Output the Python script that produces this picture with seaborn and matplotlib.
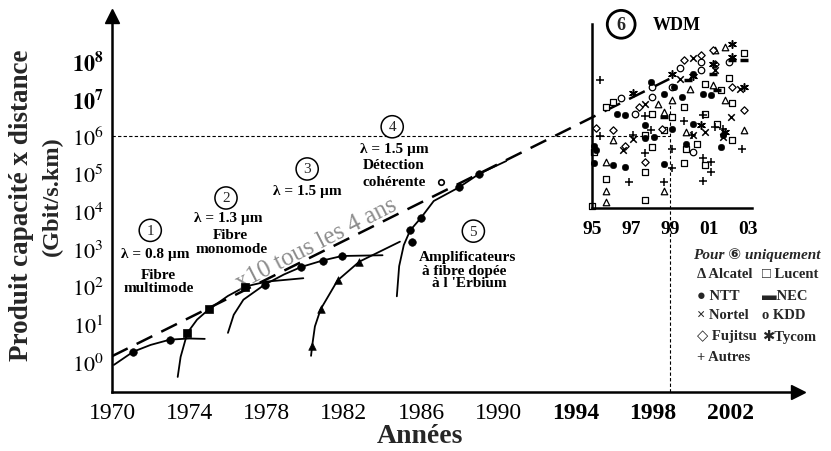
import numpy as np
import pandas as pd
import matplotlib
matplotlib.use("Agg")
import matplotlib.pyplot as plt
import seaborn as sns

# ---------------- data (years, log10 of capacity x distance) ----------------
c1_year = [1970.1, 1971.1, 1972.0, 1973.0, 1974.0, 1974.8]
c1_log = [-0.08, 0.27, 0.45, 0.59, 0.62, 0.61]
c1_mk_year = [1971.1, 1973.0]
c1_mk_log = [0.27, 0.59]

c2_year = [1973.4, 1973.55, 1973.9, 1974.4, 1975.0, 1976.0, 1976.9, 1978.0, 1979.9]
c2_log = [-0.40, 0.13, 0.77, 1.12, 1.39, 1.75, 2.00, 2.13, 2.22]
c2_mk_year = [1973.9, 1975.0, 1976.9]
c2_mk_log = [0.77, 1.39, 2.00]

c3_year = [1976.0, 1976.3, 1976.8, 1977.9, 1978.9, 1979.8, 1980.9, 1981.9, 1984.0]
c3_log = [0.77, 1.25, 1.65, 2.05, 2.32, 2.52, 2.69, 2.81, 2.83]
c3_mk_year = [1977.9, 1979.8, 1980.9, 1981.9]
c3_mk_log = [2.05, 2.52, 2.69, 2.81]

c4_year = [1980.3, 1980.36, 1980.5, 1980.8, 1981.67, 1982.8, 1984.9]
c4_log = [0.16, 0.43, 0.94, 1.40, 2.16, 2.66, 3.19]
c4_mk_year = [1980.36, 1980.8, 1981.67, 1982.8]
c4_mk_log = [0.43, 1.40, 2.16, 2.66]

c5_year = [1984.74, 1984.86, 1985.1, 1985.43, 1986.0, 1986.65, 1987.95, 1989.0, 1990.4]
c5_log = [1.74, 2.54, 3.10, 3.49, 3.83, 4.27, 4.63, 4.99, 5.33]
c5_mk_year = [1985.43, 1986.0, 1987.95, 1989.0, 1985.5]
c5_mk_log = [3.49, 3.83, 4.63, 4.99, 3.18]
open_year = [1987.0]
open_log = [4.77]

trend_year = [1970.0, 1999.2]
trend_log = [0.15, 7.6]

# WDM systems (inset), per supplier
alc_year = [1995.7, 1995.7, 1995.7, 1996.1, 1998.4, 1998.7, 1998.7, 1999.1, 1999.8, 2000.0, 2001.2, 2001.3, 2001.8, 2001.8, 2002.8]
alc_log = [5.30, 4.52, 4.23, 5.88, 6.85, 4.52, 6.63, 6.94, 6.10, 7.25, 7.34, 8.28, 8.36, 6.94, 6.14]
luc_year = [1995.0, 1995.1, 1995.7, 1995.7, 1996.1, 1997.7, 1997.7, 1997.7, 1998.1, 1998.1, 1998.7, 1999.1, 1999.7,
            1999.7, 1999.8, 2000.4, 2000.8, 2000.8, 2000.8, 2001.4, 2001.6, 2002.0, 2002.2, 2002.2, 2002.8]
luc_log = [4.12, 5.56, 4.85, 6.76, 6.90, 5.03, 4.29, 6.01, 6.59, 5.70, 6.14, 6.50, 5.28,
           6.76, 5.65, 5.79, 7.38, 6.59, 5.21, 6.32, 7.21, 7.54, 6.88, 5.88, 8.19]
ntt_year = [1995.1, 1995.1, 1995.2, 1996.1, 1996.7, 1996.3, 1996.7, 1997.7, 1997.7, 1998.0, 1998.2, 1998.7,
            1998.7, 1999.1, 1999.2, 1999.6, 1999.8, 2000.2, 2000.2, 2000.7, 2001.1, 2001.6, 2001.7]
ntt_log = [5.74, 5.28, 5.61, 5.21, 5.16, 6.59, 6.54, 6.28, 5.94, 7.43, 5.96, 5.25,
           7.12, 6.19, 7.30, 7.03, 5.79, 6.32, 7.65, 7.12, 7.08, 5.70, 6.01]
nec_year = [1998.7, 1999.9, 2001.2, 2001.4, 2002.2, 2002.8]
nec_log = [6.50, 7.48, 7.65, 7.21, 8.00, 8.00]
nor_year = [1996.6, 1997.1, 1997.7, 1999.5, 2000.2, 2000.2, 2000.8, 2001.3, 2001.7, 2002.1, 2002.6]
nor_log = [5.61, 5.92, 6.85, 7.52, 6.01, 8.07, 6.10, 7.74, 5.96, 6.50, 7.25]
kdd_year = [1996.5, 1997.2, 1998.1, 1998.1, 1999.1, 1999.5, 2000.2, 2000.6, 2000.6, 2002.0]
kdd_log = [7.01, 6.59, 7.03, 7.30, 7.30, 7.79, 5.56, 7.96, 7.74, 7.96]
fuj_year = [1995.2, 1996.1, 1996.7, 1997.4, 1997.7, 1998.6, 1999.7, 2000.6, 2001.2, 2001.3, 2002.2, 2002.8]
fuj_log = [6.20, 6.14, 5.74, 6.76, 5.30, 6.19, 8.00, 8.14, 8.28, 7.92, 7.30, 6.68]
tyc_year = [1997.1, 1999.1, 2000.2, 2000.6, 2001.2, 2001.8, 2002.2, 2002.2, 2002.8]
tyc_log = [7.14, 7.65, 7.60, 6.28, 7.92, 6.10, 8.45, 8.10, 7.30]
aut_year = [1995.4, 1995.4, 1996.9, 1997.1, 1997.7, 1997.7, 1998.0, 1998.7, 1999.1, 1999.1, 1999.7, 2000.1,
            2000.7, 2000.7, 2000.7, 2001.1, 2001.1, 2001.3, 2001.7, 2002.7]
aut_log = [7.48, 5.99, 4.76, 6.01, 6.52, 5.54, 6.14, 4.76, 5.65, 5.14, 6.38, 6.01,
           6.56, 5.40, 4.81, 5.30, 5.03, 6.24, 6.19, 5.65]

x_ticks_major = [1970, 1974, 1978, 1982, 1986, 1990, 1994, 1998, 2002]
x_tick_labels = ["1970", "1974", "1978", "1982", "1986", "1990", "1994", "1998", "2002"]
y_exps = [0, 1, 2, 3, 4, 5, 6, 7, 8]
inset_ticks = [1995, 1997, 1999, 2001, 2003]
inset_labels = ["95", "97", "99", "01", "03"]

# ---------------- style ----------------
sns.set_theme(style="white")
plt.rcParams["font.family"] = ["Liberation Serif", "DejaVu Sans"]
plt.rcParams["mathtext.fontset"] = "stix"

W, H = 831, 452
fig = plt.figure(figsize=(W / 100, H / 100), dpi=100)
fig.patch.set_facecolor("white")

def fx(px):
    return px / W

def fy(py):
    return 1 - py / H

ax = fig.add_axes([fx(112), fy(393), fx(798) - fx(112), fy(17) - fy(393)])
ax.set_facecolor("none")
ax.set_yscale("log")
ax.set_xlim(1970, 2005.5)
ax.set_ylim(10 ** -0.80, 10 ** 9.18)
for s in ["top", "right"]:
    ax.spines[s].set_visible(False)
for s in ["left", "bottom"]:
    ax.spines[s].set_linewidth(1.8)
    ax.spines[s].set_color("black")

# arrows
ax.plot(1, 0, marker=">", ms=10, color="black", transform=ax.transAxes, clip_on=False)
ax.plot(0, 1, marker="^", ms=10, color="black", transform=ax.transAxes, clip_on=False)

# ticks
ax.set_xticks(x_ticks_major)
xt = ax.set_xticklabels(x_tick_labels, fontsize=17)
for t, lab in zip(xt, x_tick_labels):
    if int(lab) >= 1994:
        t.set_fontweight("bold")
ax.set_xticks(np.arange(1972, 2003, 4), minor=True)
ax.tick_params(axis="x", which="both", direction="in", length=6, width=1.5, pad=7, colors="black")
ax.set_yticks([10.0 ** e for e in y_exps])
ylabs = [(r"$\mathbf{10^{%d}}$" % e) if e >= 7 else (r"$10^{%d}$" % e) for e in y_exps]
ax.set_yticklabels(ylabs, fontsize=16)
ax.yaxis.set_minor_locator(matplotlib.ticker.NullLocator())
ax.tick_params(axis="y", which="major", direction="in", length=7, width=1.5, pad=6, colors="black")

# reference dashed lines
ax.hlines(1e6, 1970, 1998.9, colors="black", linestyles=(0, (3, 2)), linewidth=0.8)
ax.vlines(1998.9, 10 ** -0.80, 1e7, colors="black", linestyles=(0, (3, 2)), linewidth=0.8)

# trend line
sns.lineplot(x=trend_year, y=10 ** np.array(trend_log), ax=ax, color="black",
             linewidth=1.8, linestyle=(0, (7, 4)), estimator=None, sort=False)

# technology curves
for xs, ls in [(c1_year, c1_log), (c2_year, c2_log), (c3_year, c3_log), (c4_year, c4_log), (c5_year, c5_log)]:
    sns.lineplot(x=xs, y=10 ** np.array(ls), ax=ax, color="black", linewidth=1.3,
                 estimator=None, sort=False)

mk = 30
sns.scatterplot(x=c1_mk_year, y=10 ** np.array(c1_mk_log), ax=ax, marker="o", s=mk,
                color="black", edgecolor="black", zorder=5)
sns.scatterplot(x=c2_mk_year, y=10 ** np.array(c2_mk_log), ax=ax, marker="s", s=38,
                color="black", edgecolor="black", zorder=5)
sns.scatterplot(x=c3_mk_year, y=10 ** np.array(c3_mk_log), ax=ax, marker="o", s=mk,
                color="black", edgecolor="black", zorder=5)
sns.scatterplot(x=c4_mk_year, y=10 ** np.array(c4_mk_log), ax=ax, marker="^", s=mk,
                color="black", edgecolor="black", zorder=5)
sns.scatterplot(x=c5_mk_year, y=10 ** np.array(c5_mk_log), ax=ax, marker="o", s=mk,
                color="black", edgecolor="black", zorder=5)
sns.scatterplot(x=open_year, y=10 ** np.array(open_log), ax=ax, marker="o", s=16,
                color="black", facecolor="white", edgecolor="black", linewidth=1.2, zorder=5)

# annotations
bold = dict(fontweight="bold", ha="center", va="center", color="black")

def circled(x, y, n, size=11, lw=1.1, weight="normal"):
    ax.text(x, 10 ** y, n, fontsize=size, ha="center", va="center", fontweight=weight,
            bbox=dict(boxstyle="circle,pad=0.3", fc="white", ec="black", lw=lw), zorder=6)

circled(1971.98, 3.49, "1")
ax.text(1972.24, 10 ** 2.88, "λ = 0.8 µm", fontsize=11, **bold)
ax.text(1972.4, 10 ** 2.32, "Fibre", fontsize=11, **bold)
ax.text(1972.4, 10 ** 1.97, "multimode", fontsize=11, **bold)

circled(1975.9, 4.35, "2")
ax.text(1976.04, 10 ** 3.84, "λ = 1.3 µm", fontsize=11, **bold)
ax.text(1976.1, 10 ** 3.39, "Fibre", fontsize=11, **bold)
ax.text(1976.2, 10 ** 3.01, "monomode", fontsize=11, **bold)

circled(1980.1, 5.12, "3")
ax.text(1980.1, 10 ** 4.54, "λ = 1.5 µm", fontsize=11, **bold)

circled(1984.5, 6.24, "4")
ax.text(1984.6, 10 ** 5.65, "λ = 1.5 µm", fontsize=11, **bold)
ax.text(1984.6, 10 ** 5.23, "Détection", fontsize=11, **bold)
ax.text(1984.6, 10 ** 4.80, "cohérente", fontsize=11, **bold)

circled(1988.7, 3.47, "5")
ax.text(1988.4, 10 ** 2.80, "Amplificateurs", fontsize=11, **bold)
ax.text(1988.2, 10 ** 2.43, "à fibre dopée", fontsize=11, **bold)
ax.text(1988.5, 10 ** 2.10, "à l 'Erbium", fontsize=11, **bold)

circled(1996.35, 8.96, "6", size=13, lw=2.0, weight="bold")
ax.text(1999.2, 10 ** 8.96, "WDM", fontsize=13, **bold)

ax.text(1980.6, 10 ** 3.15, "x10 tous les 4 ans", fontsize=18, color="#8c8c8c",
        ha="center", va="center", rotation=27)

# ---------------- WDM inset ----------------
axi = fig.add_axes([fx(592), fy(209), fx(752) - fx(592), fy(25) - fy(209)])
axi.patch.set_visible(False)
axi.set_yscale("log")
axi.set_xlim(1995, 2003.2)
axi.set_ylim(10 ** 4.08, 10 ** 8.97)
for s in ["top", "right"]:
    axi.spines[s].set_visible(False)
for s in ["left", "bottom"]:
    axi.spines[s].set_linewidth(1.8)
    axi.spines[s].set_color("black")
axi.set_xticks(inset_ticks)
axi.set_xticklabels(inset_labels, fontsize=14, fontweight="bold")
axi.tick_params(axis="x", direction="inout", length=6, width=1.5, pad=6, colors="black")
axi.set_yticks([1e5, 1e6, 1e7, 1e8])
axi.set_yticklabels([])
axi.yaxis.set_minor_locator(matplotlib.ticker.NullLocator())
axi.tick_params(axis="y", direction="out", length=4, width=1.5, colors="black")

ms = 22
open_kw = dict(color="black", facecolor="white", edgecolor="black", linewidth=0.9)
line_kw = dict(color="black", linewidth=1.1)
sns.scatterplot(x=alc_year, y=10 ** np.array(alc_log), ax=axi, marker="^", s=ms, clip_on=False, **open_kw)
sns.scatterplot(x=luc_year, y=10 ** np.array(luc_log), ax=axi, marker="s", s=ms, clip_on=False, **open_kw)
sns.scatterplot(x=kdd_year, y=10 ** np.array(kdd_log), ax=axi, marker="o", s=ms, clip_on=False, **open_kw)
sns.scatterplot(x=fuj_year, y=10 ** np.array(fuj_log), ax=axi, marker="D", s=14, clip_on=False, **open_kw)
sns.scatterplot(x=ntt_year, y=10 ** np.array(ntt_log), ax=axi, marker="o", s=ms, clip_on=False,
                color="black", edgecolor="black")
sns.scatterplot(x=nec_year, y=10 ** np.array(nec_log), ax=axi, marker="_", s=30, clip_on=False,
                color="black", linewidth=2.5)
sns.scatterplot(x=nor_year, y=10 ** np.array(nor_log), ax=axi, marker="x", s=ms, clip_on=False, **line_kw)
sns.scatterplot(x=tyc_year, y=10 ** np.array(tyc_log), ax=axi, marker=(6, 2, 0), s=30, clip_on=False, **line_kw)
sns.scatterplot(x=aut_year, y=10 ** np.array(aut_log), ax=axi, marker="+", s=30, clip_on=False, **line_kw)

# ---------------- legend text ----------------
fam = ["Liberation Serif", "DejaVu Sans"]
fig.text(fx(693), fy(255), "Pour ⑥ uniquement", fontsize=11, fontweight="bold", fontstyle="italic",
         ha="left", va="center", family=fam)
leg1 = [("Δ Alcatel", 275), ("● NTT", 296), ("× Nortel", 316), ("◇ Fujitsu", 337), ("+ Autres", 358)]
leg2 = [("□ Lucent", 275), ("▬NEC", 296), ("o KDD", 316), ("✱Tycom", 337)]
for txt, y in leg1:
    fig.text(fx(697), fy(y), txt, fontsize=10.5, fontweight="bold", ha="left", va="center", family=fam)
for txt, y in leg2:
    fig.text(fx(762), fy(y), txt, fontsize=10.5, fontweight="bold", ha="left", va="center", family=fam)

# ---------------- axis titles ----------------
fig.text(fx(22), fy(205), "Produit capacité x distance", rotation=90, fontsize=19.5, fontweight="bold",
         ha="center", va="center")
fig.text(fx(52), fy(196), "(Gbit/s.km)", rotation=90, fontsize=17.5, fontweight="bold",
         ha="center", va="center")
fig.text(fx(420), fy(437), "Années", fontsize=20, fontweight="bold", ha="center", va="center")

fig.savefig("out.png", dpi=100, facecolor="white")
